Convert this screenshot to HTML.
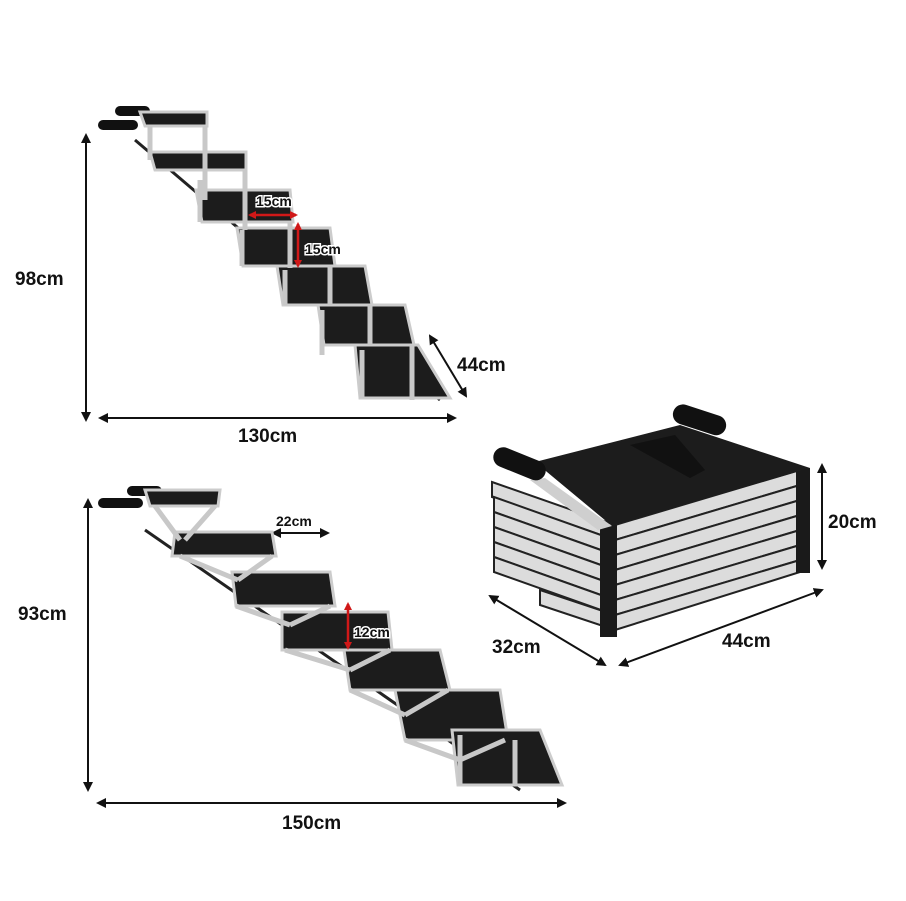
<!DOCTYPE html>
<html><head><meta charset="utf-8"><style>
body{margin:0;background:#fff;}
svg{display:block}
text{font-family:"Liberation Sans",sans-serif;font-weight:bold;fill:#111}
</style></head><body>
<svg width="906" height="901" viewBox="0 0 906 901">
<defs>
<marker id="a" markerWidth="10" markerHeight="10" refX="8" refY="5" orient="auto-start-reverse" markerUnits="userSpaceOnUse"><path d="M0,0 L10,5 L0,10 z" fill="#111"/></marker>
<marker id="r" markerWidth="8" markerHeight="8" refX="6" refY="4" orient="auto-start-reverse" markerUnits="userSpaceOnUse"><path d="M0,0 L8,4 L0,8 z" fill="#d01818"/></marker>
</defs>
<g stroke="#111" stroke-width="2" fill="none">
<line x1="86" y1="135" x2="86" y2="420" marker-start="url(#a)" marker-end="url(#a)"/>
<line x1="100" y1="418" x2="455" y2="418" marker-start="url(#a)" marker-end="url(#a)"/>
<line x1="430" y1="336" x2="466" y2="396" marker-start="url(#a)" marker-end="url(#a)"/>
<line x1="88" y1="500" x2="88" y2="790" marker-start="url(#a)" marker-end="url(#a)"/>
<line x1="98" y1="803" x2="565" y2="803" marker-start="url(#a)" marker-end="url(#a)"/>
<line x1="822" y1="465" x2="822" y2="568" marker-start="url(#a)" marker-end="url(#a)"/>
<line x1="490" y1="596" x2="605" y2="665" marker-start="url(#a)" marker-end="url(#a)"/>
<line x1="620" y1="665" x2="822" y2="590" marker-start="url(#a)" marker-end="url(#a)"/>
<line x1="273" y1="533" x2="328" y2="533" marker-start="url(#a)" marker-end="url(#a)"/>
</g>
<!-- top stair -->
<g>
<rect x="98" y="120" width="40" height="10" rx="5" fill="#111"/>
<rect x="115" y="106" width="35" height="10" rx="5" fill="#111"/>
<line x1="135" y1="140" x2="440" y2="400" stroke="#222" stroke-width="3"/>
<g fill="#1c1c1c" stroke="#ccc" stroke-width="3">
<polygon points="140,112 207,112 207,126 145,126"/>
<polygon points="150,152 246,152 246,170 155,170"/>
<polygon points="196,190 290,190 293,222 202,222"/>
<polygon points="237,228 330,228 335,266 243,266"/>
<polygon points="277,266 365,266 372,305 283,305"/>
<polygon points="318,305 405,305 414,345 324,345"/>
<polygon points="355,345 418,345 450,398 360,398"/>
</g>
<g stroke="#c8c8c8" stroke-width="5" fill="none">
<path d="M150,126 L150,160 M205,126 L205,200 M245,170 L245,230 M200,180 L200,222 M290,222 L290,268 M242,230 L242,266 M330,266 L330,305 M285,270 L285,305 M370,305 L370,345 M322,310 L322,355 M412,345 L412,400 M362,350 L362,398"/>
</g>
<line x1="250" y1="215" x2="296" y2="215" stroke="#d01818" stroke-width="2.5" marker-start="url(#r)" marker-end="url(#r)"/>
<line x1="298" y1="224" x2="298" y2="266" stroke="#d01818" stroke-width="2.5" marker-start="url(#r)" marker-end="url(#r)"/>
</g>
<!-- bottom stair -->
<g>
<rect x="98" y="498" width="45" height="10" rx="5" fill="#111"/>
<rect x="127" y="486" width="35" height="10" rx="5" fill="#111"/>
<line x1="145" y1="530" x2="520" y2="790" stroke="#222" stroke-width="3"/>
<g fill="#1c1c1c" stroke="#ccc" stroke-width="3">
<polygon points="145,490 220,490 218,506 150,506"/>
<polygon points="175,532 272,532 276,556 172,556"/>
<polygon points="232,572 330,572 335,606 236,606"/>
<polygon points="282,612 388,612 392,650 282,650"/>
<polygon points="344,650 440,650 450,690 350,690"/>
<polygon points="395,690 500,690 508,740 405,740"/>
<polygon points="452,730 540,730 562,785 458,785"/>
</g>
<g stroke="#c8c8c8" stroke-width="5" fill="none">
<path d="M155,506 L180,540 M215,506 L185,540 M180,556 L238,580 M272,556 L238,580 M236,606 L290,625 M330,606 L290,625 M285,650 L350,670 M390,650 L350,670 M350,690 L405,715 M448,690 L405,715 M405,740 L460,760 M505,740 L460,760 M460,785 L460,735 M515,785 L515,740"/>
</g>
<line x1="348" y1="604" x2="348" y2="648" stroke="#d01818" stroke-width="2.5" marker-start="url(#r)" marker-end="url(#r)"/>
</g>
<!-- folded -->
<g>
<g fill="#dcdcdc" stroke="#222" stroke-width="2">
<polygon points="492,482 615,525 615,540 492,497"/>
<polygon points="494,497 615,540 615,555 494,512"/>
<polygon points="494,512 615,555 615,570 494,527"/>
<polygon points="494,527 615,570 615,585 494,542"/>
<polygon points="494,542 615,585 615,600 494,557"/>
<polygon points="494,557 615,600 615,615 494,572"/>
<polygon points="540,590 615,615 615,630 540,605"/>
<polygon points="615,525 800,470 800,485 615,540"/>
<polygon points="615,540 800,485 800,500 615,555"/>
<polygon points="615,555 800,500 800,515 615,570"/>
<polygon points="615,570 800,515 800,530 615,585"/>
<polygon points="615,585 800,530 800,545 615,600"/>
<polygon points="615,600 800,545 800,560 615,615"/>
<polygon points="615,615 800,560 800,572 615,630"/>
</g>
<rect x="600" y="525" width="17" height="112" fill="#1a1a1a"/>
<rect x="796" y="468" width="14" height="105" fill="#1a1a1a"/>
<polygon points="535,462 680,425 810,468 612,526" fill="#1c1c1c"/>
<polygon points="630,445 675,435 705,470 690,478" fill="#111"/>
<polygon points="530,480 545,478 612,526 598,530" fill="#cfcfcf"/>
<rect x="492" y="454" width="55" height="20" rx="10" transform="rotate(22 520 464)" fill="#111"/>
<rect x="672" y="410" width="55" height="20" rx="10" transform="rotate(18 700 420)" fill="#111"/>
</g>
<g font-size="19">
<text x="15" y="285">98cm</text>
<text x="238" y="442">130cm</text>
<text x="457" y="371">44cm</text>
<text x="18" y="620">93cm</text>
<text x="282" y="829">150cm</text>
<text x="828" y="528">20cm</text>
<text x="492" y="653">32cm</text>
<text x="722" y="647">44cm</text>
</g>
<g font-size="14">
<text x="276" y="526">22cm</text>
<text x="256" y="206" stroke="#fff" stroke-width="3" paint-order="stroke">15cm</text>
<text x="305" y="254" stroke="#fff" stroke-width="3" paint-order="stroke">15cm</text>
<text x="354" y="637" stroke="#fff" stroke-width="3" paint-order="stroke">12cm</text>
</g>
</svg>
</body></html>
